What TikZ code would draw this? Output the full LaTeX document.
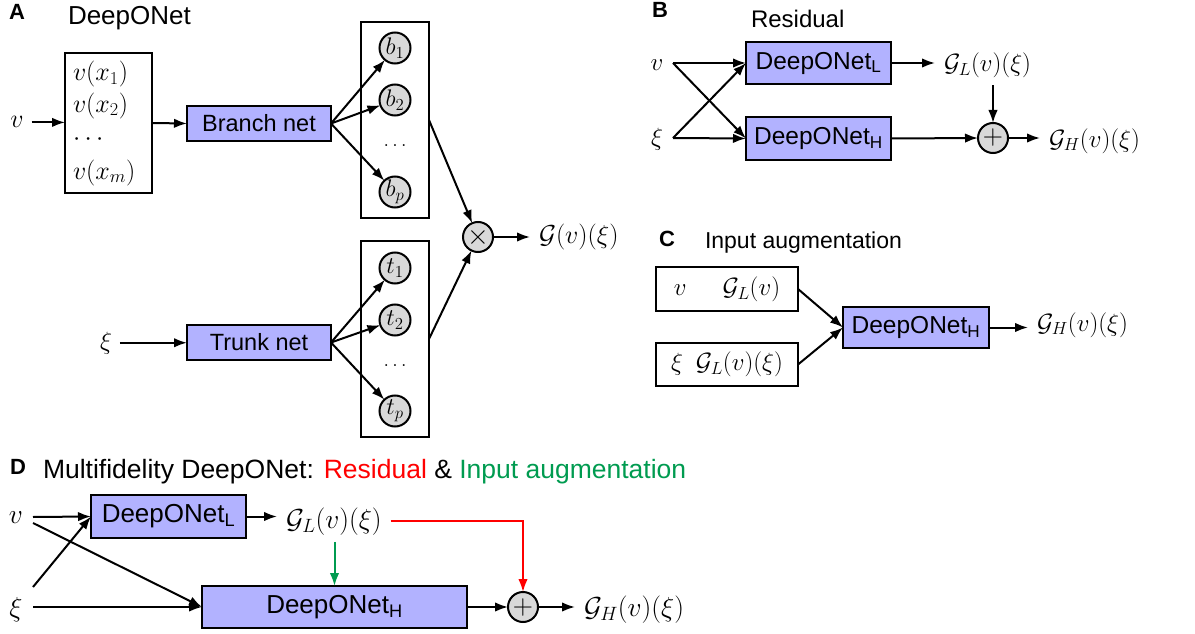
\documentclass[tikz,border=0pt]{standalone}
\usepackage{fix-cm}
\usepackage[no-math]{fontspec}
\newfontfamily\arial{Liberation Sans}
\usetikzlibrary{arrows.meta}
\definecolor{boxblue}{RGB}{178,178,255}
\definecolor{nodegray}{RGB}{217,217,217}
\definecolor{resred}{RGB}{255,0,0}
\definecolor{augreen}{RGB}{0,155,80}
\tikzset{
  every node/.style={inner sep=0pt, outer sep=0pt},
  arr/.style={-{Latex[length=13pt,width=9.5pt]}, line width=2pt},
  sans/.style={font=\arial\fontsize{#1}{#1}\selectfont},
  mth/.style={font=\fontsize{#1}{#1}\selectfont},
  panel/.style={font=\arial\bfseries\fontsize{22}{22}\selectfont},
  netbox/.style={draw, line width=2pt, fill=boxblue},
  plainbox/.style={draw, line width=2pt},
  neuron/.style={circle, draw, line width=2pt, fill=nodegray, minimum size=31pt, font=\fontsize{24}{24}\selectfont},
  opnode/.style={circle, draw, line width=2pt, fill=nodegray, minimum size=30pt, font=\fontsize{28}{28}\selectfont},
  outlab/.style={inner xsep=9pt, inner ysep=7pt, anchor=base west},
}
\begin{document}
\begin{tikzpicture}[x=1pt,y=-1pt]
\useasboundingbox (0,0) rectangle (1195,634);

% ---------------- Panel A ----------------
\node[panel] (labA) at (17,12) {A};
\node[sans=26, anchor=base west] (titA) at (68,25) {DeepONet};
\node[mth=26, anchor=base, inner xsep=8pt] (vA) at (17,128) {$v$};
\node[plainbox, minimum width=87pt, minimum height=140pt] (inbox) at (108.5,123) {};
\node[mth=26, anchor=base west] (ix1) at (73,81) {$v(x_1)$};
\node[mth=26, anchor=base west] (ix2) at (73,112) {$v(x_2)$};
\node[mth=26, anchor=base west] (ixd) at (73,146) {$\cdots$};
\node[mth=26, anchor=base west] (ixm) at (73,179) {$v(x_m)$};
\draw[arr] (vA.east) -- (vA.east -| inbox.west);
\node[netbox, sans=23.5, minimum width=144pt, minimum height=35pt] (branch) at (259,123.5) {Branch net};
\draw[arr] (inbox.east) -- (branch.west);

\node[plainbox, minimum width=68pt, minimum height=196pt] (bbox) at (395,120) {};
\node[neuron] (b1) at (395,48) {$b_1$};
\node[neuron] (b2) at (395,100) {$b_2$};
\node[mth=20] (bd) at (395,146) {$\dots$};
\node[neuron] (bp) at (395,192) {$b_p$};
\draw[arr] (branch.east) -- (b1);
\draw[arr] (branch.east) -- (b2);
\draw[arr] (branch.east) -- (bp);

\node[mth=25, anchor=base, inner xsep=8pt] (xiA) at (106,349) {$\xi$};
\node[netbox, sans=23.5, minimum width=144pt, minimum height=35pt] (trunk) at (259,342.5) {Trunk net};
\draw[arr] (xiA.east) -- (xiA.east -| trunk.west);

\node[plainbox, minimum width=68pt, minimum height=196pt] (tbox) at (395,339) {};
\node[neuron] (t1) at (395,268) {$t_1$};
\node[neuron] (t2) at (395,320) {$t_2$};
\node[mth=20] (td) at (395,366) {$\dots$};
\node[neuron] (tp) at (395,411) {$t_p$};
\draw[arr] (trunk.east) -- (t1);
\draw[arr] (trunk.east) -- (t2);
\draw[arr] (trunk.east) -- (tp);

\node[opnode] (times) at (478,237) {$\times$};
\draw[arr] (bbox.east) -- (times);
\draw[arr] (tbox.east) -- (times);
\node[mth=26, outlab] (GA) at (530,243) {$\mathcal{G}(v)(\xi)$};
\draw[arr] (times.east) -- (times.east -| GA.west);

% ---------------- Panel B ----------------
\node[panel] (labB) at (660,10) {B};
\node[sans=24, anchor=base west] (titB) at (751,28) {Residual};
\node[mth=25, anchor=base] (vB) at (657,71) {$v$};
\node[mth=25, anchor=base] (xiB) at (657,145) {$\xi$};
\coordinate (vBo) at (673,63);
\coordinate (xBo) at (673,138);
\node[netbox, sans=24.5, minimum width=145pt, minimum height=42pt] (LB) at (818.5,63) {DeepONet\textsubscript{L}};
\node[netbox, sans=24.5, minimum width=145pt, minimum height=43pt] (HB) at (818.5,138.5) {DeepONet\textsubscript{H}};
\draw[arr] (vBo) -- (LB.west);
\draw[arr] (vBo) -- (HB.west);
\draw[arr] (xBo) -- (LB.west);
\draw[arr] (xBo) -- (HB.west);
\node[mth=25, outlab] (GLB) at (935,72) {$\mathcal{G}_L(v)(\xi)$};
\draw[arr] (LB.east) -- (LB.east -| GLB.west);
\node[opnode] (plusB) at (993,138) {$+$};
\draw[arr] (plusB.north |- GLB.south) -- (plusB.north);
\draw[arr] (HB.east) -- (plusB.west);
\node[mth=25, outlab] (GHB) at (1040,147) {$\mathcal{G}_H(v)(\xi)$};
\draw[arr] (plusB.east) -- (plusB.east -| GHB.west);

% ---------------- Panel C ----------------
\node[panel] (labC) at (667,239) {C};
\node[sans=23, anchor=base west] (titC) at (705,248) {Input augmentation};
\node[plainbox, mth=25, minimum width=142pt, minimum height=44pt] (cb1) at (727,289) {$v$\hspace{36pt}$\mathcal{G}_L(v)$};
\node[plainbox, mth=25, minimum width=142pt, minimum height=43pt] (cb2) at (727,364.5) {$\xi$\hspace{13pt}$\mathcal{G}_L(v)(\xi)$};
\node[netbox, sans=24.5, minimum width=146pt, minimum height=41pt] (HC) at (916,327.5) {DeepONet\textsubscript{H}};
\draw[arr] (cb1.east) -- (HC.west);
\draw[arr] (cb2.east) -- (HC.west);
\node[mth=25, outlab] (GHC) at (1028,331) {$\mathcal{G}_H(v)(\xi)$};
\draw[arr] (HC.east) -- (HC.east -| GHC.west);

% ---------------- Panel D ----------------
\node[panel] (labD) at (18,467) {D};
\node[sans=26.5, anchor=base west] (titD) at (43,478) {Multifidelity DeepONet: \textcolor{resred}{Residual} \& \textcolor{augreen}{Input augmentation}};
\node[mth=27.5, anchor=base] (vD) at (16,523) {$v$};
\node[mth=27.5, anchor=base] (xiD) at (16,616) {$\xi$};
\coordinate (vDo1) at (33,517);
\coordinate (vDo2) at (33,523);
\coordinate (xDo1) at (33,607);
\coordinate (xDo2) at (33,587);
\node[netbox, sans=26, minimum width=155pt, minimum height=43pt] (LD) at (168.5,516.5) {DeepONet\textsubscript{L}};
\node[netbox, sans=26, minimum width=265pt, minimum height=42pt] (HD) at (334.5,607) {DeepONet\textsubscript{H}};
\draw[arr] (vDo1) -- (LD.west);
\draw[arr] (vDo2) -- (HD.west);
\draw[arr] (xDo1) -- (HD.west);
\draw[arr] (xDo2) -- (LD.west);
\node[mth=27.5, outlab] (GLD) at (277,528) {$\mathcal{G}_L(v)(\xi)$};
\draw[arr] (LD.east) -- (LD.east -| GLD.west);
\node[opnode] (plusD) at (523,607) {$+$};
\draw[arr, augreen] (HD.north |- GLD.south) -- (HD.north);
\draw[arr, resred] (GLD.east) -| (plusD.north);
\draw[arr] (HD.east) -- (plusD.west);
\node[mth=27.5, outlab] (GHD) at (575,616) {$\mathcal{G}_H(v)(\xi)$};
\draw[arr] (plusD.east) -- (plusD.east -| GHD.west);
\end{tikzpicture}
\end{document}
